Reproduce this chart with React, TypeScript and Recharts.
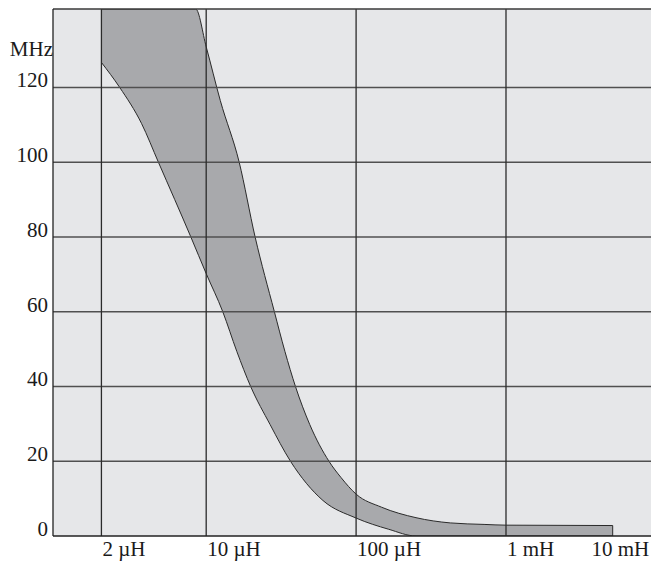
import React from 'react';
import {
  ComposedChart,
  Area,
  XAxis,
  YAxis,
  CartesianGrid,
  ReferenceLine,
} from 'recharts';

// inductance in µH (log axis), frequency in MHz
const INDUCTANCE_TICKS = [2, 10, 100, 1000, 3664];
const INDUCTANCE_LABELS = ['2 µH', '10 µH', '100 µH', '1 mH', '10 mH'];
const GRID_X = [2, 10, 100, 1000];

const FREQ_TICKS = [0, 20, 40, 60, 80, 100, 120];
const GRID_Y = [20, 40, 60, 80, 100, 120];
const UNIT_POS = 128.4;
const Y_MAX = 141;

// upper edge of the band
const upperL = [2, 8.51, 10, 12.42, 16.6, 21.2, 28.5, 33.5, 39.4, 49.1, 65.9, 79.5, 100, 148, 251, 425, 714, 1000, 5150];
const upperF = [141, 141, 130.9, 116.5, 100, 80, 60, 49.4, 40, 29.8, 20, 15.6, 11.2, 7.7, 4.9, 3.5, 3.1, 2.9, 2.8];

// lower edge of the band
const lowerL = [2, 2.65, 3.7, 4.8, 7.9, 10, 12.9, 16.0, 19.8, 26.7, 36.5, 60.1, 100, 165, 251, 5150];
const lowerF = [126.7, 120, 110.4, 100, 80, 70.2, 60, 49.4, 40, 29.8, 20, 9.5, 4.8, 1.8, 0, 0];

const upperData = upperL.map((l, i) => ({ l, f: upperF[i] }));
const lowerData = lowerL.map((l, i) => ({ l, f: lowerF[i] }));

const BG = '#e6e7e9';
const BAND = '#a8a9ac';
const FONT = '"Liberation Serif", "Times New Roman", serif';

const XTick = (props: any) => {
  const { x, y, payload } = props;
  const i = INDUCTANCE_TICKS.indexOf(payload.value);
  return (
    <text x={x + 1} y={y + 20} textAnchor="start" fontFamily={FONT} fontSize={21} fill="#1a1a1a">
      {INDUCTANCE_LABELS[i]}
    </text>
  );
};

const YTick = (props: any) => {
  const { x, y, payload } = props;
  const isUnit = payload.value === UNIT_POS;
  return (
    <text x={isUnit ? x : x - 5} y={y} textAnchor="end" fontFamily={FONT} fontSize={21} fill="#1a1a1a">
      {isUnit ? 'MHz' : payload.value}
    </text>
  );
};

export default function App() {
  const endL = upperL[upperL.length - 1];
  return (
    <div style={{ position: 'absolute', left: 0, top: 0, background: '#fff' }}>
      <ComposedChart width={651} height={561} margin={{ top: 9, right: 0, bottom: 0, left: 0 }}>
        <CartesianGrid fill={BG} stroke="none" horizontal={false} vertical={false} />
        <XAxis
          dataKey="l"
          type="number"
          scale="log"
          domain={[0.9506, 9276]}
          allowDataOverflow
          ticks={INDUCTANCE_TICKS}
          interval={0}
          tick={<XTick />}
          tickLine={false}
          tickSize={0}
          tickMargin={0}
          height={25}
          axisLine={{ stroke: '#222', strokeWidth: 1.3 }}
        />
        <YAxis
          type="number"
          domain={[0, Y_MAX]}
          allowDataOverflow
          ticks={[...FREQ_TICKS, UNIT_POS]}
          interval={0}
          tick={<YTick />}
          tickLine={false}
          tickSize={0}
          tickMargin={0}
          width={53}
          axisLine={{ stroke: '#222', strokeWidth: 1.3 }}
        />
        <Area
          data={upperData}
          dataKey="f"
          type="monotone"
          fill={BAND}
          fillOpacity={1}
          stroke="#2a2a2a"
          strokeWidth={1}
          baseValue={0}
          isAnimationActive={false}
        />
        <Area
          data={lowerData}
          dataKey="f"
          type="monotone"
          fill={BG}
          fillOpacity={1}
          stroke="#2a2a2a"
          strokeWidth={1}
          baseValue={0}
          isAnimationActive={false}
        />
        <ReferenceLine
          segment={[{ x: endL, y: lowerF[lowerF.length - 1] }, { x: endL, y: upperF[upperF.length - 1] }]}
          stroke="#2a2a2a"
          strokeWidth={1}
        />
        {GRID_Y.map((v) => (
          <ReferenceLine key={'h' + v} y={v} stroke="#505050" strokeWidth={1.3} />
        ))}
        {GRID_X.map((v) => (
          <ReferenceLine key={'v' + v} x={v} stroke="#2b2b2b" strokeWidth={1.3} />
        ))}
        <ReferenceLine y={Y_MAX} stroke="#3a3a3a" strokeWidth={1.3} />
      </ComposedChart>
    </div>
  );
}
